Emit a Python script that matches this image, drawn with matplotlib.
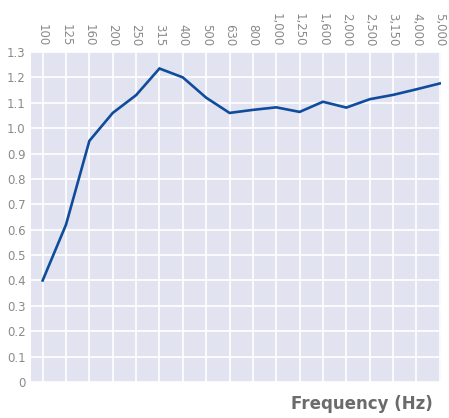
import numpy as np
import matplotlib
matplotlib.use("Agg")
import matplotlib.pyplot as plt

freqs = ["100", "125", "160", "200", "250", "315", "400", "500", "630", "800",
         "1,000", "1,250", "1,600", "2,000", "2,500", "3,150", "4,000", "5,000"]
values = [0.40, 0.62, 0.95, 1.06, 1.13, 1.235, 1.20, 1.12, 1.06, 1.072,
          1.082, 1.064, 1.104, 1.081, 1.114, 1.131, 1.153, 1.176]
y_ticks = np.round(np.arange(0, 1.31, 0.1), 1)
y_labels = ["0"] + ["%.1f" % v for v in y_ticks[1:]]

plt.rcParams['font.family'] = ['DejaVu Sans']

fig = plt.figure(figsize=(4.49, 4.18), dpi=100)
ax = fig.add_axes([0.069, 0.0861, 0.913, 0.7895])
ax.set_facecolor('#e2e3f0')

x = np.arange(len(freqs))
ax.plot(x, values, color='#0f4c9c', lw=1.9, solid_joinstyle='miter', zorder=3)

ax.set_xlim(-0.5, 17.05)
ax.set_ylim(0, 1.3)
ax.set_xticks(x)
ax.set_xticklabels(freqs, rotation=270, fontsize=8.5, color='#8a8a8a')
ax.set_yticks(y_ticks)
ax.set_yticklabels(y_labels, fontsize=8.5, color='#8a8a8a')
ax.xaxis.tick_top()
ax.tick_params(length=0, pad=4)
ax.grid(color='white', lw=1.2)
ax.set_axisbelow(True)
for s in ax.spines.values():
    s.set_visible(False)

fig.text(0.963, 0.033, "Frequency (Hz)", ha='right', va='center',
         fontsize=12, fontweight='bold', color='#6b6b6b')

fig.savefig("out.png", dpi=100)
